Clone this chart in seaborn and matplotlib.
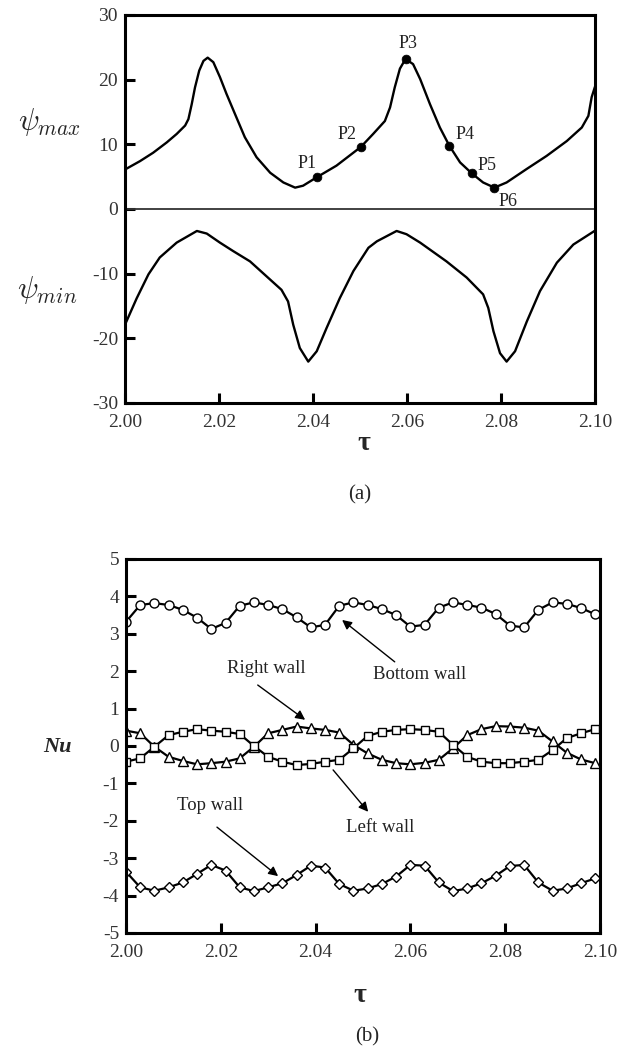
import matplotlib
matplotlib.use("Agg")
import matplotlib.pyplot as plt
import seaborn as sns

# ---- panel (a): stream function extrema ----
tau_max = [2.0000, 2.0032, 2.0060, 2.0089, 2.0110, 2.0128, 2.0135, 2.0142, 2.0149,
           2.0158, 2.0167, 2.0176, 2.0188, 2.0202, 2.0216, 2.0234, 2.0255, 2.0280,
           2.0309, 2.0337, 2.0362, 2.0379, 2.0408, 2.0450, 2.0502, 2.0528, 2.0553,
           2.0564, 2.0574, 2.0585, 2.0597, 2.0613, 2.0628, 2.0649, 2.0670, 2.0690,
           2.0713, 2.0738, 2.0762, 2.0786, 2.0812, 2.0855, 2.0897, 2.0940, 2.0972,
           2.0986, 2.0993, 2.1000]
psi_max = [6.1, 7.4, 8.7, 10.3, 11.6, 12.9, 13.9, 16.2, 18.8,
           21.4, 22.9, 23.4, 22.7, 20.4, 17.8, 14.7, 11.1, 8.0,
           5.6, 4.1, 3.3, 3.6, 4.9, 6.7, 9.6, 11.6, 13.6,
           15.7, 18.8, 21.7, 23.2, 22.4, 20.1, 16.2, 12.6, 9.8,
           7.2, 5.5, 4.1, 3.3, 4.1, 6.2, 8.2, 10.5, 12.6,
           14.4, 17.3, 18.9]

tau_min = [2.0000, 2.0025, 2.0050, 2.0074, 2.0110, 2.0153, 2.0174, 2.0202, 2.0230,
           2.0266, 2.0301, 2.0333, 2.0347, 2.0358, 2.0372, 2.0390, 2.0408, 2.0429,
           2.0457, 2.0486, 2.0518, 2.0536, 2.0578, 2.0599, 2.0628, 2.0684, 2.0727,
           2.0762, 2.0773, 2.0784, 2.0798, 2.0812, 2.0830, 2.0855, 2.0883, 2.0919,
           2.0954, 2.0999]
psi_min = [-17.9, -13.8, -10.1, -7.5, -5.2, -3.4, -3.8, -5.2, -6.5,
           -8.1, -10.4, -12.5, -14.3, -17.9, -21.5, -23.6, -22.0, -18.4,
           -13.8, -9.6, -6.0, -5.0, -3.4, -3.9, -5.2, -8.1, -10.6,
           -13.2, -15.3, -18.9, -22.3, -23.6, -22.0, -17.4, -12.7, -8.3,
           -5.5, -3.4]

p_labels = ["P1", "P2", "P3", "P4", "P5", "P6"]
p_tau = [2.0408, 2.0502, 2.0597, 2.0690, 2.0738, 2.0786]
p_psi = [4.9, 9.6, 23.2, 9.8, 5.5, 3.3]
p_offsets = [(-7, 10), (-10, 9), (2, 11), (11, 8), (11, 6), (10, -10)]

# ---- panel (b): Nusselt numbers ----
tau_nu = [2.000, 2.003, 2.006, 2.009, 2.012, 2.015, 2.018, 2.021, 2.024, 2.027,
          2.030, 2.033, 2.036, 2.039, 2.042, 2.045, 2.048, 2.051, 2.054, 2.057,
          2.060, 2.063, 2.066, 2.069, 2.072, 2.075, 2.078, 2.081, 2.084, 2.087,
          2.090, 2.093, 2.096, 2.099]
nu_bottom = [3.32, 3.77, 3.82, 3.77, 3.64, 3.43, 3.13, 3.29, 3.75, 3.84,
             3.77, 3.66, 3.44, 3.17, 3.24, 3.75, 3.84, 3.77, 3.66, 3.50,
             3.19, 3.24, 3.70, 3.84, 3.77, 3.70, 3.53, 3.22, 3.17, 3.64,
             3.84, 3.80, 3.69, 3.52]
nu_right = [0.41, 0.34, -0.02, -0.29, -0.40, -0.49, -0.46, -0.42, -0.33, -0.02,
            0.34, 0.43, 0.52, 0.47, 0.43, 0.36, 0.03, -0.20, -0.37, -0.46,
            -0.49, -0.45, -0.37, -0.06, 0.29, 0.45, 0.53, 0.52, 0.49, 0.41,
            0.12, -0.18, -0.36, -0.46]
nu_left = [-0.42, -0.33, -0.02, 0.29, 0.38, 0.45, 0.41, 0.38, 0.32, 0.00,
           -0.29, -0.42, -0.51, -0.48, -0.42, -0.37, -0.06, 0.27, 0.38, 0.43,
           0.45, 0.43, 0.38, 0.03, -0.29, -0.42, -0.46, -0.46, -0.42, -0.37,
           -0.11, 0.21, 0.34, 0.45]
nu_top = [-3.36, -3.78, -3.87, -3.78, -3.65, -3.42, -3.18, -3.33, -3.78, -3.88,
          -3.78, -3.67, -3.45, -3.20, -3.25, -3.69, -3.87, -3.81, -3.69, -3.49,
          -3.18, -3.20, -3.65, -3.88, -3.81, -3.67, -3.47, -3.21, -3.18, -3.65,
          -3.87, -3.81, -3.67, -3.54]

wall_series = [
    (nu_bottom, "o", 6.5),
    (nu_right, "^", 7.5),
    (nu_left, "s", 6.0),
    (nu_top, "D", 5.5),
]

# text label, text pos, arrow tail, arrow head (data coords)
wall_notes = [
    ("Right wall", (2.0297, 2.06), (2.0278, 1.63), (2.0378, 0.70)),
    ("Bottom wall", (2.0620, 1.90), (2.0567, 2.25), (2.0456, 3.37)),
    ("Left wall", (2.0536, -2.17), (2.0437, -0.64), (2.0511, -1.76)),
    ("Top wall", (2.0177, -1.58), (2.0192, -2.17), (2.0321, -3.48)),
]

sns.set_theme(style="ticks")
plt.rcParams["font.family"] = ["Liberation Serif", "DejaVu Serif"]
plt.rcParams["mathtext.fontset"] = "cm"
plt.rcParams["axes.unicode_minus"] = False
plt.rcParams["lines.solid_joinstyle"] = "round"
plt.rcParams["lines.solid_capstyle"] = "round"

TICK_COLOR = "#333333"

fig = plt.figure(figsize=(6.23, 10.47), dpi=100)
ax1 = fig.add_axes([0.2006, 0.6151, 0.7544, 0.3706])
ax2 = fig.add_axes([0.2022, 0.1089, 0.7608, 0.3572])


def style_axes(ax):
    for side in ["left", "bottom", "right", "top"]:
        ax.spines[side].set_visible(True)
        ax.spines[side].set_color("black")
        ax.spines[side].set_linewidth(2.2)
    ax.tick_params(direction="in", length=7, width=2.2, labelsize=14,
                   labelcolor=TICK_COLOR, color="black", pad=5)
    ax.tick_params(axis="x", top=False, pad=8)
    ax.tick_params(axis="y", right=False)
    ax.set_xlabel("")
    ax.set_ylabel("")


# panel (a)
sns.lineplot(x=tau_max, y=psi_max, ax=ax1, color="black", linewidth=1.7,
             sort=False, estimator=None)
sns.lineplot(x=tau_min, y=psi_min, ax=ax1, color="black", linewidth=1.7,
             sort=False, estimator=None)
ax1.axhline(0, color="#333333", linewidth=1.3)
sns.scatterplot(x=p_tau, y=p_psi, ax=ax1, color="black", s=40, zorder=5,
                edgecolor="black")
for lab, t, v, off in zip(p_labels, p_tau, p_psi, p_offsets):
    ax1.annotate(lab, (t, v), xytext=off, textcoords="offset points",
                 ha="center", va="center", fontsize=13, color="#222222")
ax1.set_xlim(2.0, 2.1)
ax1.set_ylim(-30, 30)
ax1.set_xticks([2.00, 2.02, 2.04, 2.06, 2.08, 2.10])
ax1.set_xticklabels(["2.00", "2.02", "2.04", "2.06", "2.08", "2.10"])
ax1.set_yticks([-30, -20, -10, 0, 10, 20, 30])
style_axes(ax1)

fig.text(0.08, 1 - 122 / 1047, r"$\psi_{max}$", fontsize=22, ha="center", va="center")
fig.text(0.075, 1 - 290 / 1047, r"$\psi_{min}$", fontsize=22, ha="center", va="center")
fig.text(0.584, 1 - 443 / 1047, "τ", fontsize=20, fontweight="bold",
         ha="center", va="center")
fig.text(0.578, 1 - 495 / 1047, "(a)", fontsize=15, ha="center", va="center")

# panel (b)
for values, mk, ms in wall_series:
    sns.lineplot(x=tau_nu, y=values, ax=ax2, color="black", linewidth=1.6,
                 marker=mk, markersize=ms, markerfacecolor="white",
                 markeredgecolor="black", markeredgewidth=1.0,
                 sort=False, estimator=None)
for label, txt, tail, head in wall_notes:
    ax2.text(txt[0], txt[1], label, fontsize=13.5, ha="center", va="center",
             color="#222222")
    ax2.annotate("", xy=head, xytext=tail,
                 arrowprops=dict(arrowstyle="-|>", color="black", lw=1.0,
                                 mutation_scale=14, shrinkA=0, shrinkB=0))
ax2.set_xlim(2.0, 2.1)
ax2.set_ylim(-5, 5)
ax2.set_xticks([2.00, 2.02, 2.04, 2.06, 2.08, 2.10])
ax2.set_xticklabels(["2.00", "2.02", "2.04", "2.06", "2.08", "2.10"])
ax2.set_yticks(list(range(-5, 6)))
style_axes(ax2)

fig.text(0.093, 1 - 747 / 1047, "Nu", fontsize=16, fontweight="bold",
         fontstyle="italic", ha="center", va="center")
fig.text(0.578, 1 - 995 / 1047, "τ", fontsize=20, fontweight="bold",
         ha="center", va="center")
fig.text(0.589, 1 - 1037 / 1047, "(b)", fontsize=15, ha="center", va="center")

fig.savefig("out.png", dpi=100)
plt.close(fig)
